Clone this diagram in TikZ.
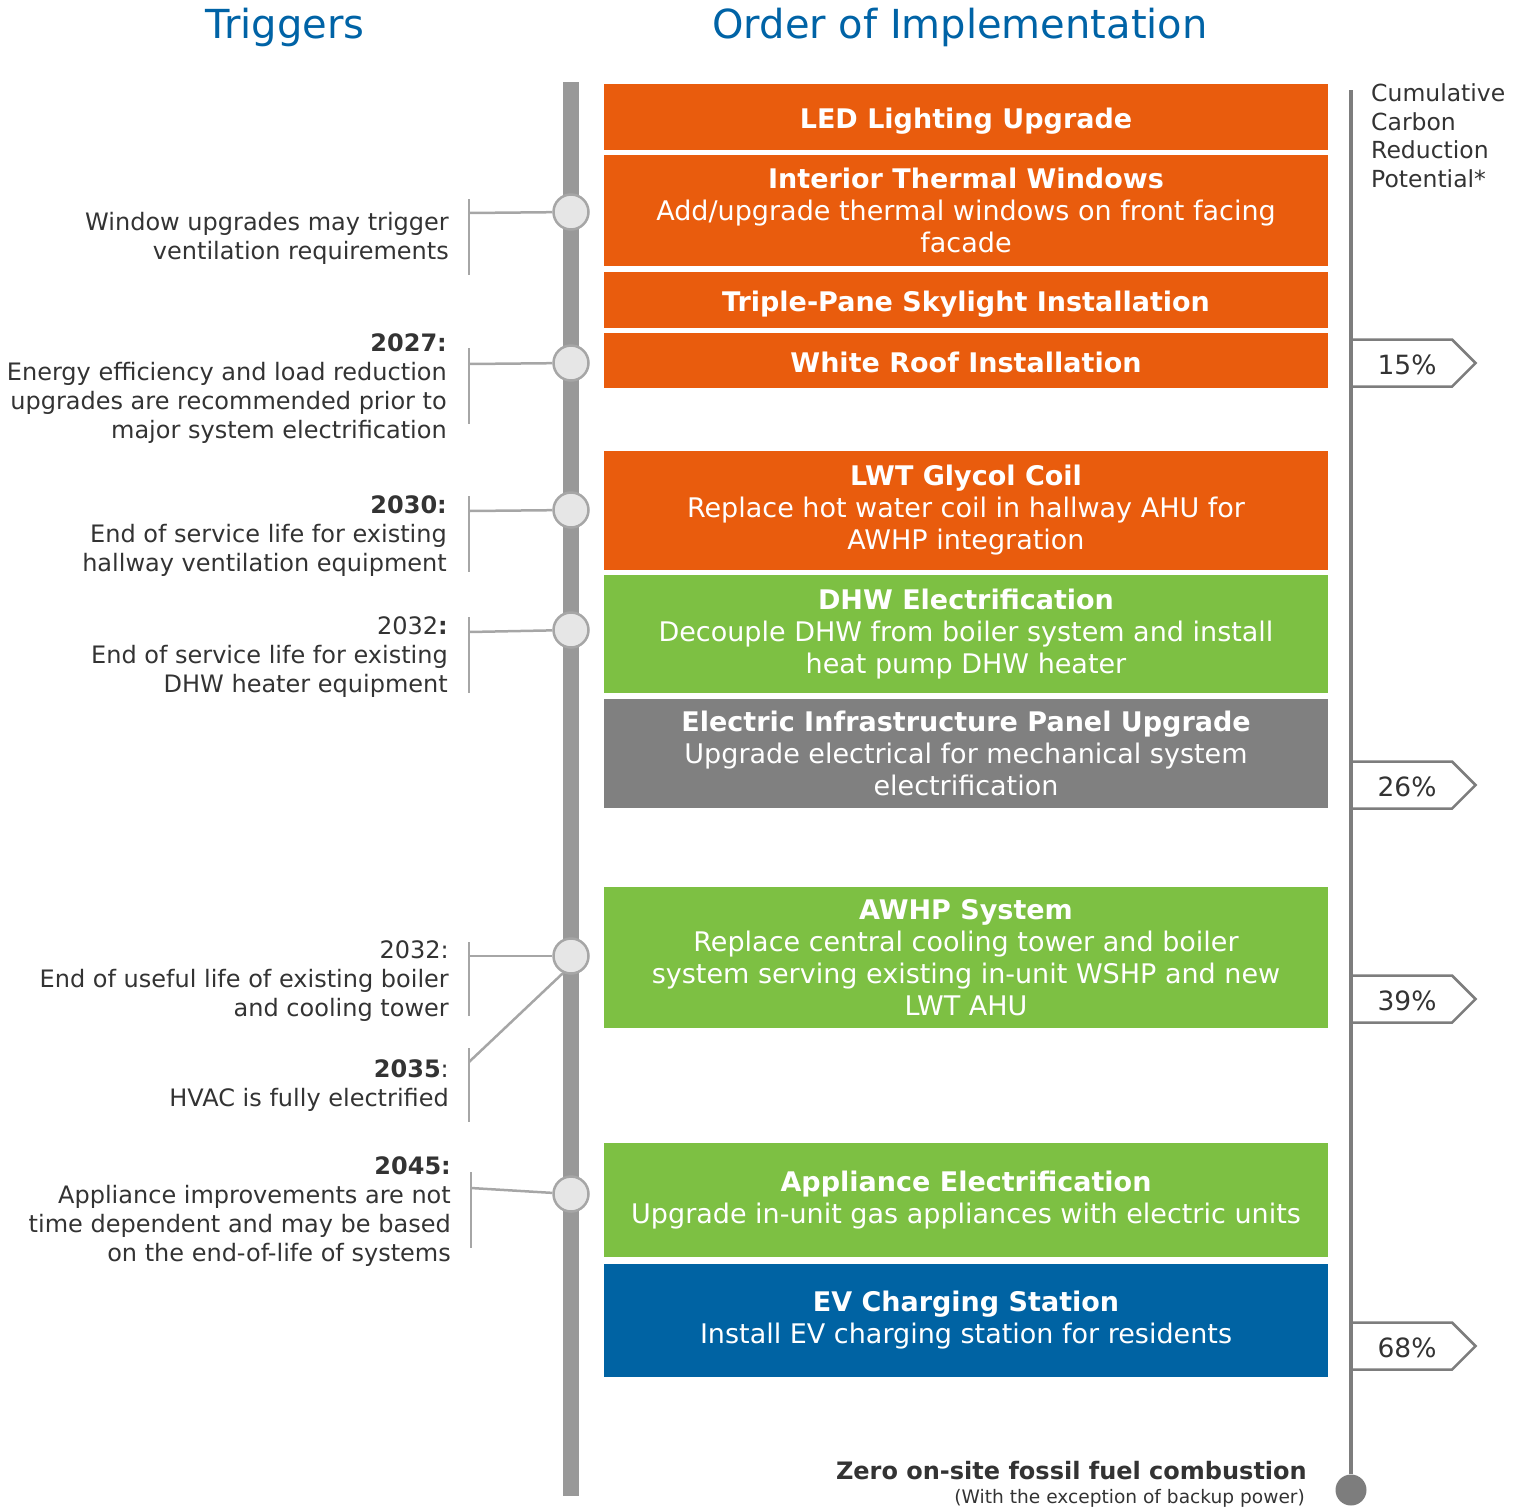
\documentclass[tikz,border=0pt]{standalone}
\usepackage{fontspec}
\setmainfont{DejaVu Sans}
\usetikzlibrary{positioning}

\definecolor{ink}{RGB}{51,51,51}
\definecolor{headblue}{RGB}{0,99,166}
\definecolor{measorange}{RGB}{233,92,13}
\definecolor{measgreen}{RGB}{125,192,67}
\definecolor{measgray}{RGB}{128,128,128}
\definecolor{measblue}{RGB}{0,99,163}
\definecolor{railgray}{RGB}{153,153,153}
\definecolor{markfill}{RGB}{230,230,230}
\definecolor{markline}{RGB}{166,166,166}
\definecolor{potgray}{RGB}{125,125,125}

\begin{document}
\begin{tikzpicture}[x=1pt, y=-1pt]
    \tikzset{
        every node/.style={text=ink, inner sep=0pt},
        head/.style={text=headblue, font=\fontsize{40}{48}\selectfont},
        trig/.style={anchor=base east, align=right, font=\fontsize{24}{29}\selectfont},
        measure/.style={minimum width=724.5, text=white, align=center,
            font=\fontsize{27}{32}\selectfont},
        oneline/.style={text height=26pt, text depth=2.4pt},
        marker/.style={circle, draw=markline, fill=markfill, line width=2.5pt, minimum size=35pt},
        bracket/.style={draw=markline, line width=2.5pt},
        tag/.style={draw=potgray, line width=2.5pt},
        pct/.style={anchor=base, font=\fontsize{26.5}{30}\selectfont}
    }
    \useasboundingbox (0,0) rectangle (1526,1508);

    \node[head, anchor=base] (trighead) at (285,38) {Triggers};
    \node[head, anchor=base] (orderhead) at (960,38) {Order of Implementation};

    % trigger timeline
    \fill[railgray] (563.3,82) rectangle (578.7,1496);

    % measures, top to bottom
    \node[measure, oneline, fill=measorange, minimum height=66] (led) at (966,117)
        {\textbf{LED Lighting Upgrade}};
    \node[measure, fill=measorange, minimum height=111, below=5pt of led] (windows)
        {\textbf{Interior Thermal Windows}\\Add/upgrade thermal windows on front facing\\facade};
    \node[measure, oneline, fill=measorange, minimum height=56, below=5pt of windows] (skylight)
        {\textbf{Triple-Pane Skylight Installation}};
    \node[measure, oneline, fill=measorange, minimum height=55, below=5pt of skylight] (roof)
        {\textbf{White Roof Installation}};
    \node[measure, fill=measorange, minimum height=119, below=62pt of roof] (glycol)
        {\textbf{LWT Glycol Coil}\\Replace hot water coil in hallway AHU for\\AWHP integration};
    \node[measure, fill=measgreen, minimum height=118, below=5pt of glycol] (dhw)
        {\textbf{DHW Electrification}\\Decouple DHW from boiler system and install\\heat pump DHW heater};
    \node[measure, fill=measgray, minimum height=109, below=6pt of dhw] (panel)
        {\textbf{Electric Infrastructure Panel Upgrade}\\Upgrade electrical for mechanical system\\electrification};
    \node[measure, fill=measgreen, minimum height=141, below=78pt of panel] (awhp)
        {\textbf{AWHP System}\\Replace central cooling tower and boiler\\system serving existing in-unit WSHP and new\\LWT AHU};
    \node[measure, fill=measgreen, minimum height=114, below=115pt of awhp] (appliance)
        {\textbf{Appliance Electrification}\\Upgrade in-unit gas appliances with electric units};
    \node[measure, fill=measblue, minimum height=113, below=6pt of appliance] (ev)
        {\textbf{EV Charging Station}\\Install EV charging station for residents};

    % trigger markers on the timeline
    \foreach \n/\y in {1/212, 2/363, 3/510, 4/630, 5/956, 6/1194} {
        \node[marker] (m\n) at (571,\y) {};
    }

    % brackets from the trigger notes
    \foreach \n/\x/\a/\b/\y/\m in {1/469/199/275/213/m1, 2/469/348/424/364/m2,
                                  3/469/496/572/511/m3, 4/469/617/693/632/m4,
                                  5/469/942/1016/956/m5, 7/471/1172/1248/1188/m6} {
        \draw[bracket] (\x,\a) -- (\x,\b);
        \coordinate (arm\n) at (\x,\y);
        \draw[bracket] (arm\n) -- (\m);
    }
    \draw[bracket] (469,1048) -- (469,1122);
    \coordinate (arm6) at (469,1062);
    \draw[bracket] (arm6) -- (m5.245);

    % notes sit on the baseline of their last line
    \node[trig] (note1) at (449,259) {Window upgrades may trigger\\ventilation requirements};
    \node[trig] (note2) at (447,438) {\textbf{2027:}\\Energy efficiency and load reduction\\upgrades are recommended prior to\\major system electrification};
    \node[trig] (note3) at (447,571) {\textbf{2030:}\\End of service life for existing\\hallway ventilation equipment};
    \node[trig] (note4) at (448,692) {2032\textbf{:}\\End of service life for existing\\DHW heater equipment};
    \node[trig] (note5) at (449,1016) {2032:\\End of useful life of existing boiler\\and cooling tower};
    \node[trig] (note6) at (449,1106) {\textbf{2035}:\\HVAC is fully electrified};
    \node[trig] (note7) at (451,1261) {\textbf{2045:}\\Appliance improvements are not\\time dependent and may be based\\on the end-of-life of systems};

    % carbon reduction scale
    \node[anchor=base west, align=left, font=\fontsize{23.5}{28.5}\selectfont] (cumhead)
        at (1371,187) {Cumulative\\Carbon\\Reduction\\Potential*};
    \foreach \y/\p in {363/15, 785/26, 999/39, 1346/68} {
        \draw[tag] (1351,\y-23.5) -- (1452,\y-23.5) -- (1475.5,\y) -- (1452,\y+23.5) -- (1351,\y+23.5);
        \node[pct] (pct\p) at (1407,\y+11.5) {\p\%};
    }
    \coordinate (pottop) at (1351,90);
    \node[circle, fill=potgray, minimum size=31pt] (potend) at (1351,1490) {};
    \draw[potgray, line width=3.5pt] (pottop) -- (potend);

    \node[anchor=base east, font=\fontsize{24}{28}\selectfont\bfseries] (zero) at (1307,1479)
        {Zero on-site fossil fuel combustion};
    \node[anchor=base east, font=\fontsize{18.6}{20}\selectfont] (backup) at (1305,1503)
        {(With the exception of backup power)};
\end{tikzpicture}
\end{document}
